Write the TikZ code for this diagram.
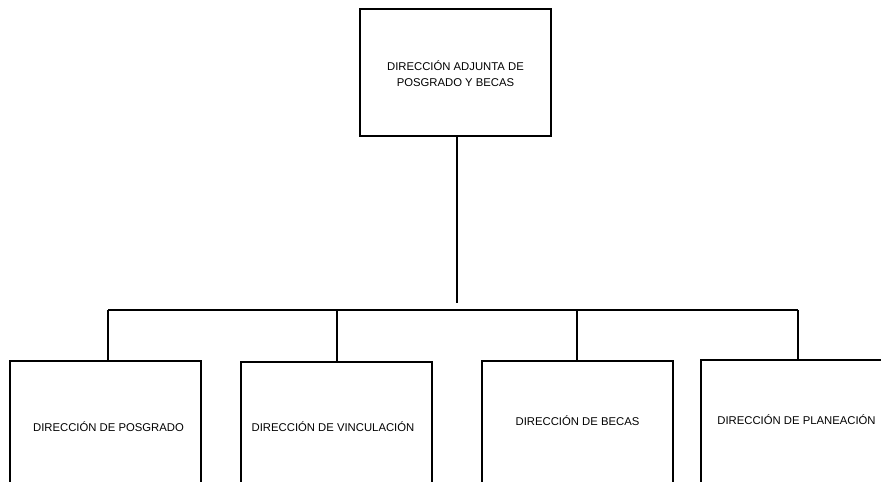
\documentclass[tikz,border=0pt]{standalone}
\usepackage{fontspec}
\setmainfont{Liberation Sans}
\begin{document}
\begin{tikzpicture}[x=1pt,y=1pt,
  box/.style={draw=black,line width=1.8pt,fill=white,minimum width=191pt,inner sep=0pt,anchor=north},
  lbl/.style={inner sep=0pt,font=\fontsize{11.3}{16}\selectfont,align=center},
  conn/.style={draw=black,line width=1.8pt,line join=miter}]
\clip (0,0) rectangle (881,-482);
\fill[white] (0,0) rectangle (881,-482);
\node[box,minimum height=127pt] (top) at (455.5,-8) {};
\node[lbl] (toplbl) at (455.5,-73.5) {DIRECCIÓN ADJUNTA DE\\POSGRADO Y BECAS};
\node[box,minimum height=160pt] (b1) at (105.5,-360) {};
\node[box,minimum height=160pt] (b2) at (336.5,-361) {};
\node[box,minimum height=160pt] (b3) at (577.5,-360) {};
\node[box,minimum height=160pt] (b4) at (796.5,-359) {};
\node[lbl] (t1) at (108.5,-427) {DIRECCIÓN DE POSGRADO};
\node[lbl] (t2) at (333,-427) {DIRECCIÓN DE VINCULACIÓN};
\node[lbl] (t3) at (577.5,-421) {DIRECCIÓN DE BECAS};
\node[lbl] (t4) at (796.5,-420) {DIRECCIÓN DE PLANEACIÓN};
\coordinate (tend) at (457,-303);
\coordinate (k1) at (108,-310);
\coordinate (k2) at (337,-310);
\coordinate (k3) at (577,-310);
\coordinate (k4) at (798,-310);
\draw[conn] (top.south -| tend) -- (tend);
\draw[conn] (k1) -- (k4);
\draw[conn] (k1) -- (k1 |- b1.north);
\draw[conn] (k2) -- (k2 |- b2.north);
\draw[conn] (k3) -- (k3 |- b3.north);
\draw[conn] (k4) -- (k4 |- b4.north);
\end{tikzpicture}
\end{document}
